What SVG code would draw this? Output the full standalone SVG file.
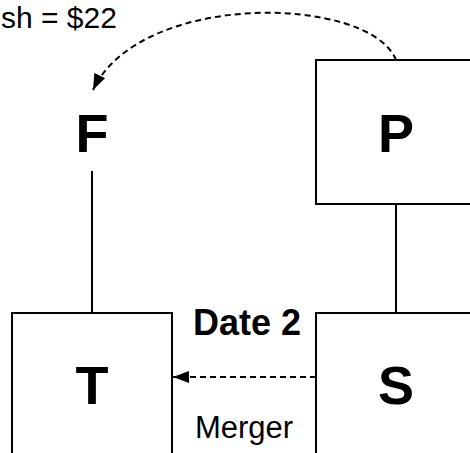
<svg xmlns="http://www.w3.org/2000/svg" width="470" height="453" viewBox="0 0 470 453">
<defs>
<style>
.box{fill:#fff;stroke:#000;stroke-width:2}
.big{font-family:"Liberation Sans",Arial,sans-serif;font-weight:bold;font-size:54px;text-anchor:middle;fill:#000}
.lbl{font-family:"Liberation Sans",Arial,sans-serif;font-size:31px;fill:#000}
.line{stroke:#000;stroke-width:2;fill:none}
.dash{stroke:#000;stroke-width:2;fill:none;stroke-dasharray:6,4}
</style>
<marker id="arr" viewBox="0 0 16 12" refX="16" refY="6" markerWidth="16" markerHeight="12" markerUnits="userSpaceOnUse" orient="auto">
<path d="M0,0 L16,6 L0,12 Z" fill="#000"/>
</marker>
</defs>
<rect width="470" height="453" fill="#fff"/>
<g id="connectors">
<line class="line" x1="92" y1="171" x2="92" y2="313"/>
<line class="line" x1="396" y1="204" x2="396" y2="313"/>
<path class="dash" d="M396,60 C370,-5 140,-10 93,90" marker-end="url(#arr)"/>
<line class="dash" x1="316" y1="377" x2="173" y2="377" marker-end="url(#arr)"/>
</g>
<g id="node-F">
<text class="big" x="92" y="152">F</text>
</g>
<g id="node-P">
<rect class="box" x="316" y="60" width="160" height="144"/>
<text class="big" x="396" y="152">P</text>
</g>
<g id="node-T">
<rect class="box" x="12" y="313" width="160" height="160"/>
<text class="big" x="92" y="404">T</text>
</g>
<g id="node-S">
<rect class="box" x="316" y="313" width="160" height="160"/>
<text class="big" x="396" y="404">S</text>
</g>
<g id="labels">
<text class="lbl" x="1" y="28" style="font-size:30px">sh = $22</text>
<text class="lbl" x="247" y="335" text-anchor="middle" style="font-size:36px;font-weight:bold">Date 2</text>
<text class="lbl" x="244" y="438" text-anchor="middle">Merger</text>
</g>
</svg>
